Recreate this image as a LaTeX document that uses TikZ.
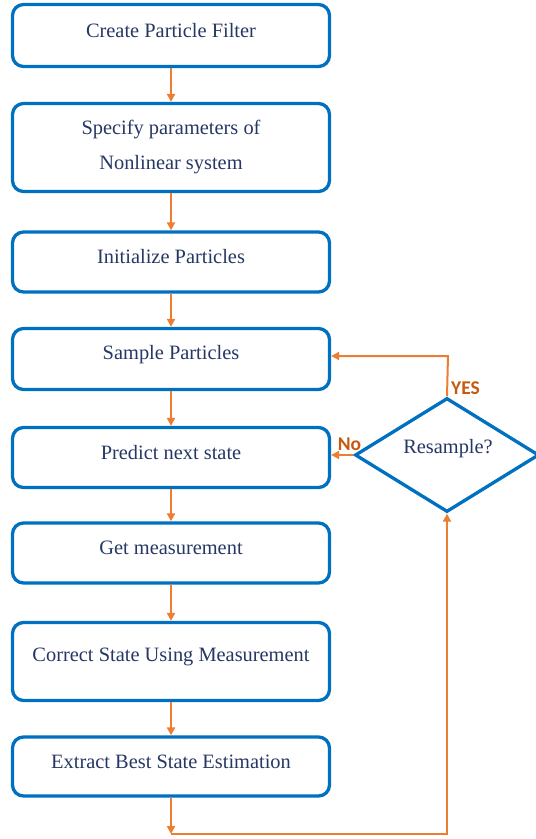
\documentclass[tikz,border=0pt]{standalone}
\usepackage{fontspec}
\setmainfont{Liberation Serif}
\newfontfamily\labelfont{Carlito}
\usetikzlibrary{shapes.geometric,arrows.meta}
\definecolor{boxblue}{HTML}{0070C0}
\definecolor{flow}{HTML}{ED7D31}
\definecolor{tag}{HTML}{C55A11}
\definecolor{ink}{RGB}{38,55,100}
\begin{document}
\begin{tikzpicture}[x=1pt,y=-1pt,
  stepbox/.style={draw=boxblue, line width=3.3pt, rounded corners=11pt,
    minimum width=317pt, inner sep=0pt},
  steptext/.style={text=ink, font=\fontsize{20.4}{35}\selectfont, align=center, inner sep=0pt},
  decision/.style={diamond, draw=boxblue, line width=3.3pt, inner sep=0pt,
    minimum width=184pt, minimum height=114pt},
  arr/.style={draw=flow, line width=2pt, -{Triangle[width=8pt,length=8pt]}},
  answer/.style={text=tag, font=\labelfont\bfseries\fontsize{19.5}{22}\selectfont, inner sep=0pt}
]
\useasboundingbox (0,0) rectangle (536,839);

% process steps
\node[stepbox, minimum height=62pt] (b1) at (171,35.5) {};
\node[stepbox, minimum height=88pt] (b2) at (171,147.5) {};
\node[stepbox, minimum height=60pt] (b3) at (171,262) {};
\node[stepbox, minimum height=61pt] (b4) at (171,359) {};
\node[stepbox, minimum height=60pt] (b5) at (171,457.5) {};
\node[stepbox, minimum height=60pt] (b6) at (171,553) {};
\node[stepbox, minimum height=78pt] (b7) at (171,661.5) {};
\node[stepbox, minimum height=59pt] (b8) at (171,766.5) {};

\node[steptext] (t1) at ([yshift=5pt]b1.center) {Create Particle Filter};
\node[steptext] (t2) at ([yshift=0pt]b2.center) {Specify parameters of\\Nonlinear system};
\node[steptext] (t3) at ([yshift=5pt]b3.center) {Initialize Particles};
\node[steptext] (t4) at ([yshift=4pt]b4.center) {Sample Particles};
\node[steptext] (t5) at ([yshift=5pt]b5.center) {Predict next state};
\node[steptext] (t6) at ([yshift=5pt]b6.center) {Get measurement};
\node[steptext] (t7) at ([yshift=5pt]b7.center) {Correct State Using Measurement};
\node[steptext] (t8) at ([yshift=5pt]b8.center) {Extract Best State Estimation};

% resampling decision
\node[decision] (dia) at (447,455) {};
\node[steptext] (dq) at (448,449) {Resample?};

% main flow
\draw[arr] (b1) -- (b2);
\draw[arr] (b2) -- (b3);
\draw[arr] (b3) -- (b4);
\draw[arr] (b4) -- (b5);
\draw[arr] (b5) -- (b6);
\draw[arr] (b6) -- (b7);
\draw[arr] (b7) -- (b8);

% loop back to the decision
\coordinate (loop) at (171,834);
\draw[arr] (b8) -- (loop);
\draw[arr] (loop) -| (dia.south);

% decision outcomes
\coordinate (yescorner) at (448,356);
\draw[arr] (dia.north) -- (yescorner) -- (yescorner -| b4.east);
\draw[arr] (dia.west) -- (dia.west -| b5.east);

\node[answer] (yes) at (465.5,388) {YES};
\node[answer] (no) at (349.5,444) {No};
\end{tikzpicture}
\end{document}
